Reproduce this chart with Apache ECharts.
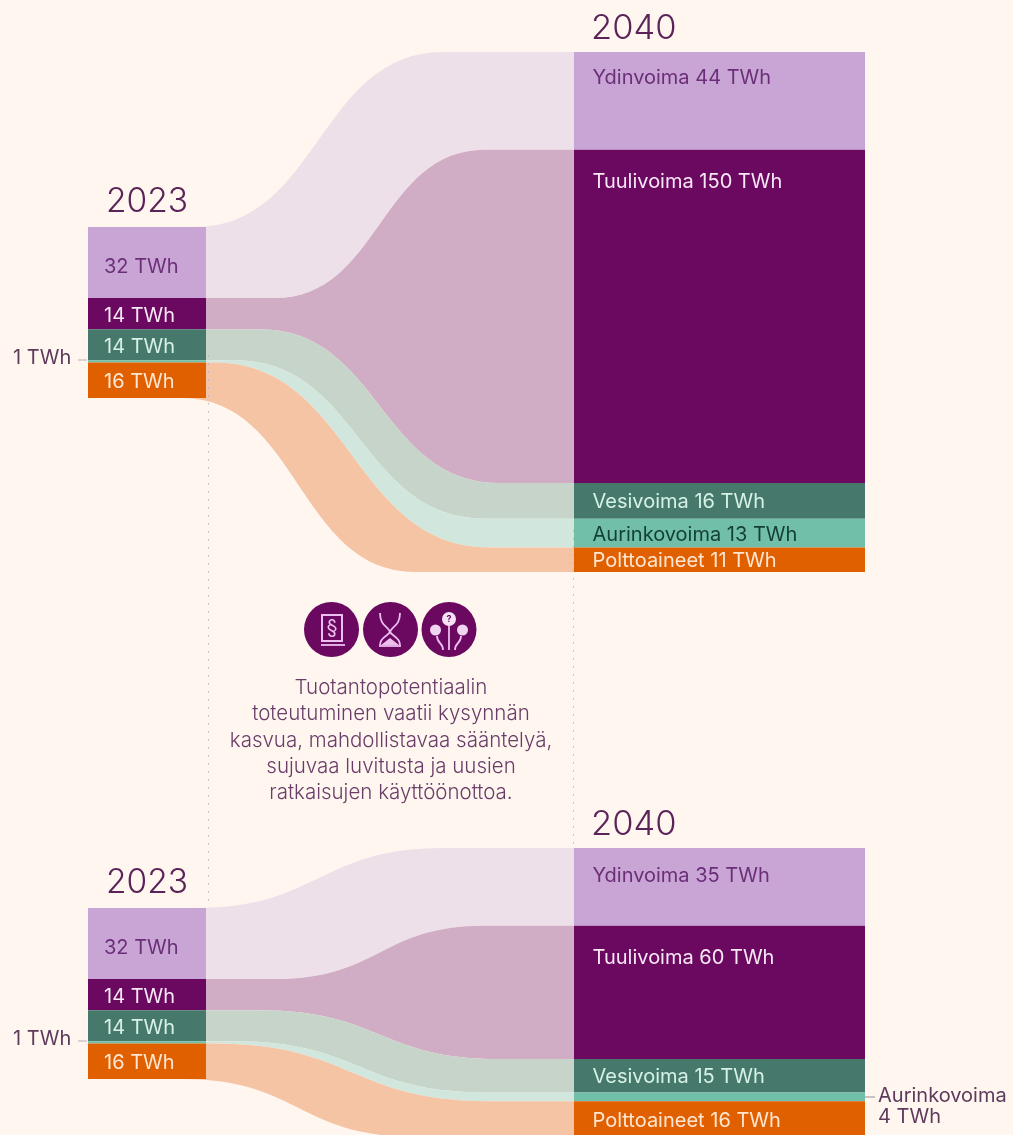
<!DOCTYPE html>
<html><head><meta charset="utf-8">
<script src="https://cdn.jsdelivr.net/npm/echarts@6/dist/echarts.min.js"></script>
<style>html,body{margin:0;padding:0;background:#FFF6F0;overflow:hidden}#c{width:1013px;height:1135px}</style>
</head><body><div id="c"></div>
<script>
const sources = ['Ydinvoima','Tuulivoima','Vesivoima','Aurinkovoima','Polttoaineet'];
const values2023 = [32,14,14,1,16];
const valuesHigh2040 = [44,150,16,13,11];
const valuesLow2040 = [35,60,15,4,16];
const year2023 = '2023';
const year2040 = '2040';
const unit = 'TWh';
const noteLines = ['Tuotantopotentiaalin','toteutuminen vaatii kysynnän','kasvua, mahdollistavaa sääntelyä,','sujuvaa luvitusta ja uusien','ratkaisujen käyttöönottoa.'];

const nodeColors = ['#C9A5D5','#6B0860','#47786C','#72BFA9','#E06000'];
const flowColors = ['#EEE0E8','#D0ACC5','#C7D4CA','#D1E7DE','#F5C4A4'];
const textColors = ['#6B2E78','#F7E8F5','#D6F2E6','#123F38','#FFE6D2'];
const font = 'Inter, "Noto Sans", sans-serif';
const leftCol = [88,206], rightCol = [574,865];
// horizontal span of the S-bend of each ribbon edge, top edge to bottom edge
const edgeSpans = [[195,443],[275,485],[260,500],[235,485],[214,490],[182,415]];

function stack(vals, off){ let y = off; return vals.map(v => { const a=y; y+=v; return [a,y]; }); }

function panelSeries(idx, leftOff, vals, firstLabelDy){
  const L = stack(values2023, leftOff), R = stack(vals, 0);
  const flows = sources.map((s,i)=>[L[i][0],L[i][1],R[i][0],R[i][1],i]);
  const nodes = [];
  sources.forEach((s,i)=>nodes.push([leftCol[0],leftCol[1],L[i][0],L[i][1],i,0,values2023[i]]));
  sources.forEach((s,i)=>nodes.push([rightCol[0],rightCol[1],R[i][0],R[i][1],i,1,vals[i]]));
  return [{
    type:'custom', xAxisIndex:idx, yAxisIndex:idx, silent:true, z:2, data:flows, animation:false,
    renderItem(p,api){
      const X0=leftCol[1], X1=rightCol[0];
      const py=v=>api.coord([X0,v])[1];
      const a=py(api.value(0)), b=py(api.value(1)), c=py(api.value(2)), d=py(api.value(3));
      const i=api.value(4);
      const [s1,e1]=edgeSpans[i], [s2,e2]=edgeSpans[i+1];
      const m1=(s1+e1)/2, m2=(s2+e2)/2;
      const sx=Math.min(X0,s1), bx=Math.min(X0,s2);
      const path=`M${sx} ${a}L${s1} ${a}C${m1} ${a} ${m1} ${c} ${e1} ${c}L${X1} ${c}L${X1} ${d}L${e2} ${d}C${m2} ${d} ${m2} ${b} ${s2} ${b}L${bx} ${b}Z`;
      return {type:'path',shape:{pathData:path},style:{fill:flowColors[i]}};
    }
  },{
    type:'custom', xAxisIndex:idx, yAxisIndex:idx, silent:true, z:3, data:nodes, animation:false,
    renderItem(p,api){
      const tl=api.coord([api.value(0),api.value(2)]), br=api.coord([api.value(1),api.value(3)]);
      const i=api.value(4), right=api.value(5)===1, v=api.value(6), h=br[1]-tl[1];
      const children=[{type:'rect',shape:{x:tl[0],y:tl[1],width:br[0]-tl[0],height:h},style:{fill:nodeColors[i]}}];
      if(h>=12){
        const dy = right ? (i===0?firstLabelDy:(i===1?32:h/2+1.5)) : h/2+(i===0?4:2);
        const txt = right ? `${sources[i]} ${v} ${unit}` : `${v} ${unit}`;
        children.push({type:'text',style:{x:tl[0]+(right?18.5:16),y:tl[1]+dy,text:txt,fill:textColors[i],font:`400 20px ${font}`,textVerticalAlign:'middle',textAlign:'left'}});
      }
      return {type:'group',children};
    }
  }];
}

const T=(x,y,text,size,fill,align)=>({type:'text',z:10,style:{x,y,text,fill,font:`${size>25?300:(align?300:400)} ${size}px ${font}`,textAlign:align||'left',textVerticalAlign:'middle'}});
const Ln=(x1,y1,x2,y2,stroke,w,dash,z)=>({type:'line',z:z||1,shape:{x1,y1,x2,y2},style:{stroke,lineWidth:w||1,lineDash:dash||null}});
const glyph='#EDBFEF', deep='#6B0860';
function icons(){
  const s={stroke:glyph,lineWidth:1.8,fill:'none'};
  const c=(cx,cy,r,st)=>({type:'circle',z:11,shape:{cx,cy,r},style:st});
  const bz=(x1,y1,cpx1,cpy1,cpx2,cpy2,x2,y2)=>({type:'bezierCurve',z:11,shape:{x1,y1,cpx1,cpy1,cpx2,cpy2,x2,y2},style:s});
  const pl=(points)=>({type:'polyline',z:11,shape:{points},style:s});
  return [
    c(331.5,629.5,27.5,{fill:deep}),c(390.5,629.5,27.5,{fill:deep}),c(449,629.5,27.5,{fill:deep}),
    {type:'rect',z:11,shape:{x:322,y:615,width:20,height:26},style:{fill:'none',stroke:glyph,lineWidth:2}},
    {type:'text',z:13,style:{x:332,y:628,text:'§',fill:glyph,font:`400 20px ${font}`,textAlign:'center',textVerticalAlign:'middle'}},
    pl([[321,645],[345,645]]),
    bz(380,613,380,626,388,626,390,632), bz(400,613,400,626,392,626,390,632),
    bz(380,645,380,637,388,636,390,632), bz(400,645,400,637,392,636,390,632),
    pl([[379,646],[401,646]]),
    {type:'polygon',z:11,shape:{points:[[381,645],[390,638],[399,645]]},style:{fill:glyph}},
    c(449,619,7,{fill:'#F5E3F5'}),
    c(435.5,630,5.5,{fill:'#F0D4F2'}),
    c(462.5,630,5.5,{fill:'#F0D4F2'}),
    pl([[449,626],[449,650]]),
    bz(437,636,437,644,443,642,443,650), bz(461,636,461,644,455,642,455,650),
    {type:'text',z:13,style:{x:449,y:619.5,text:'?',fill:deep,font:`700 9px ${font}`,textAlign:'center',textVerticalAlign:'middle'}}
  ];
}

const titleCol='#5B2458', smallCol='#5E3A5C', dots='#BDB4BA';
const elements=[
  Ln(208.5,355,208.5,906,dots,1,[1.5,6.5],6),
  Ln(573.5,530,573.5,848,dots,1,[1.5,6.5],6),
  T(591,29,year2040,34.5,titleCol), T(106,202,year2023,33.5,titleCol),
  T(591,825,year2040,34.5,titleCol), T(106,883,year2023,33.5,titleCol),
  T(13,358,`${values2023[3]} ${unit}`,20,smallCol), Ln(78,360,87,360,'#B9AEB6',1),
  T(13,1039,`${values2023[3]} ${unit}`,20,smallCol), Ln(78,1041,87,1041,'#B9AEB6',1),
  Ln(865,1097,875,1097,'#9A8E96',1),
  T(878,1096,sources[3],20,smallCol), T(878,1117,`${valuesLow2040[3]} ${unit}`,20,smallCol),
  ...noteLines.map((t,i)=>T(391,688+i*26.3,t,20.5,'#6A3D68','center')),
  ...icons()
];
const axisOff={show:false};
const chart=echarts.init(document.getElementById('c'),null,{renderer:'canvas',width:1013,height:1135});
chart.setOption({
  animation:false,
  backgroundColor:'#FFF6F0',
  grid:[{left:0,right:0,top:52,height:520},{left:0,right:0,top:848,height:287}],
  xAxis:[{type:'value',min:0,max:1013,gridIndex:0,...axisOff},{type:'value',min:0,max:1013,gridIndex:1,...axisOff}],
  yAxis:[{type:'value',inverse:true,min:0,max:234,gridIndex:0,...axisOff},{type:'value',inverse:true,min:0,max:129.15,gridIndex:1,...axisOff}],
  series:[...panelSeries(0,78.75,valuesHigh2040,26),...panelSeries(1,27,valuesLow2040,28)],
  graphic:{elements}
});
</script></body></html>
